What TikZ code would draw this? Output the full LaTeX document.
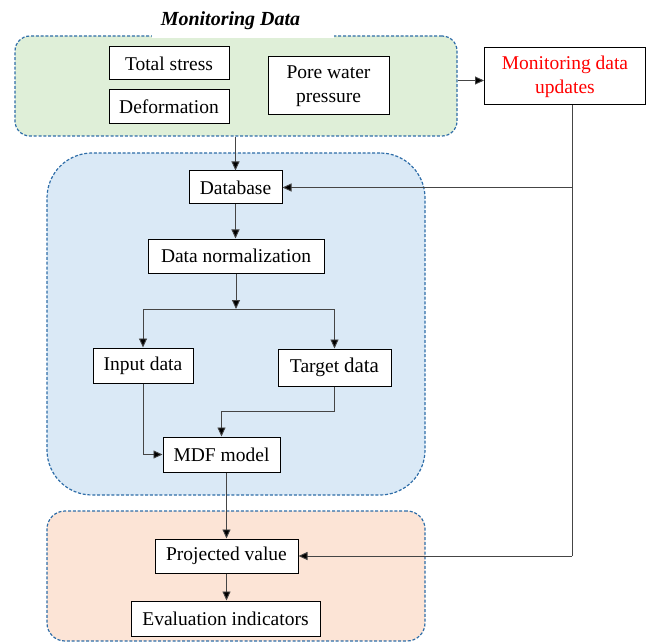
\documentclass[tikz,border=0pt]{standalone}
\usepackage{fontspec}
\setmainfont{Liberation Serif}
\usetikzlibrary{arrows.meta,calc}
\definecolor{grpgreen}{HTML}{DFEFD8}
\definecolor{grpblue}{HTML}{DAE9F6}
\definecolor{grporange}{HTML}{FCE4D6}
\definecolor{grpborder}{HTML}{2E6DA8}
\definecolor{linegray}{HTML}{454545}
\begin{document}
\begin{tikzpicture}[x=1pt,y=-1pt,
  every node/.style={font=\fontsize{19.5}{24}\selectfont},
  box/.style={draw=black,line width=1pt,fill=white,inner sep=0pt,align=center},
  grp/.style={draw=grpborder,line width=1.2pt,dash pattern=on 3pt off 1.8pt,inner sep=0pt},
  conn/.style={draw=linegray,line width=0.9pt},
  arr/.style={conn,-{Triangle[length=9pt,width=8pt,fill=black]}}
]
\useasboundingbox (0,0) rectangle (647,644);
% containers
\node[grp,fill=grpgreen,rounded corners=15pt,minimum width=442pt,minimum height=100pt] (g1) at (236,86) {};
\node[grp,fill=grpblue,rounded corners=45pt,minimum width=378pt,minimum height=342pt] (g2) at (236,324) {};
\node[grp,fill=grporange,rounded corners=18pt,minimum width=378pt,minimum height=130pt] (g3) at (236,576) {};
\fill[white] (152,27) rectangle (334,37.8);
\node[font=\fontsize{20}{24}\selectfont\bfseries\itshape] (title) at (230.5,20.5) {Monitoring Data};
% boxes
\node[box,minimum width=120pt,minimum height=33pt] (ts) at (169,63.5) {Total stress};
\node[box,minimum width=120pt,minimum height=34pt] (def) at (169,107) {Deformation};
\node[box,minimum width=121pt,minimum height=58pt] (pwp) at (328.5,86) {Pore water\\pressure};
\node[box,minimum width=161pt,minimum height=57pt,text=red] (mdu) at (565,76.5) {Monitoring data\\updates};
\node[box,minimum width=93pt,minimum height=33pt] (db) at (235.5,187.5) {Database};
\node[box,minimum width=176pt,minimum height=34pt] (dn) at (236,256) {Data normalization};
\node[box,minimum width=100pt,minimum height=35pt] (inp) at (143,365.5) {Input data};
\node[box,minimum width=113pt,minimum height=37pt] (tgt) at (334.5,367.5) {Target {\fontsize{21}{24}\selectfont data}};
\node[box,minimum width=117pt,minimum height=35pt] (mdf) at (221.5,454.5) {MDF model};
\node[box,minimum width=143pt,minimum height=34pt] (pv) at (226.5,556) {Projected value};
\node[box,minimum width=189pt,minimum height=35pt] (ev) at (225.5,618.5) {Evaluation indicators};
% helper coordinates
\coordinate (tap) at (572,0);
\coordinate (split) at (236,309);
\coordinate (tbend) at (0,411);
\coordinate (mrow) at (0,80.5);
% connectors
\draw[arr] (db.north |- g1.south) -- (db.north);
\draw[arr] (g1.east |- mrow) -- (mdu.west |- mrow);
\draw[conn] (mdu.south -| tap) -- (tap |- pv.east);
\draw[arr] (tap |- db.east) -- (db.east);
\draw[arr] (tap |- pv.east) -- (pv.east);
\draw[arr] (db.south) -- (db.south |- dn.north);
\draw[arr] (dn.south) -- (split);
\draw[conn] (inp.north |- split) -- (tgt.north |- split);
\draw[arr] (inp.north |- split) -- (inp.north);
\draw[arr] (tgt.north |- split) -- (tgt.north);
\draw[arr] (tgt.south) -- (tgt.south |- tbend) -| (mdf.north);
\draw[arr] (inp.south) |- (mdf.west);
\draw[arr] (pv.north |- mdf.south) -- (pv.north);
\draw[arr] (pv.south) -- (pv.south |- ev.north);
\end{tikzpicture}
\end{document}
